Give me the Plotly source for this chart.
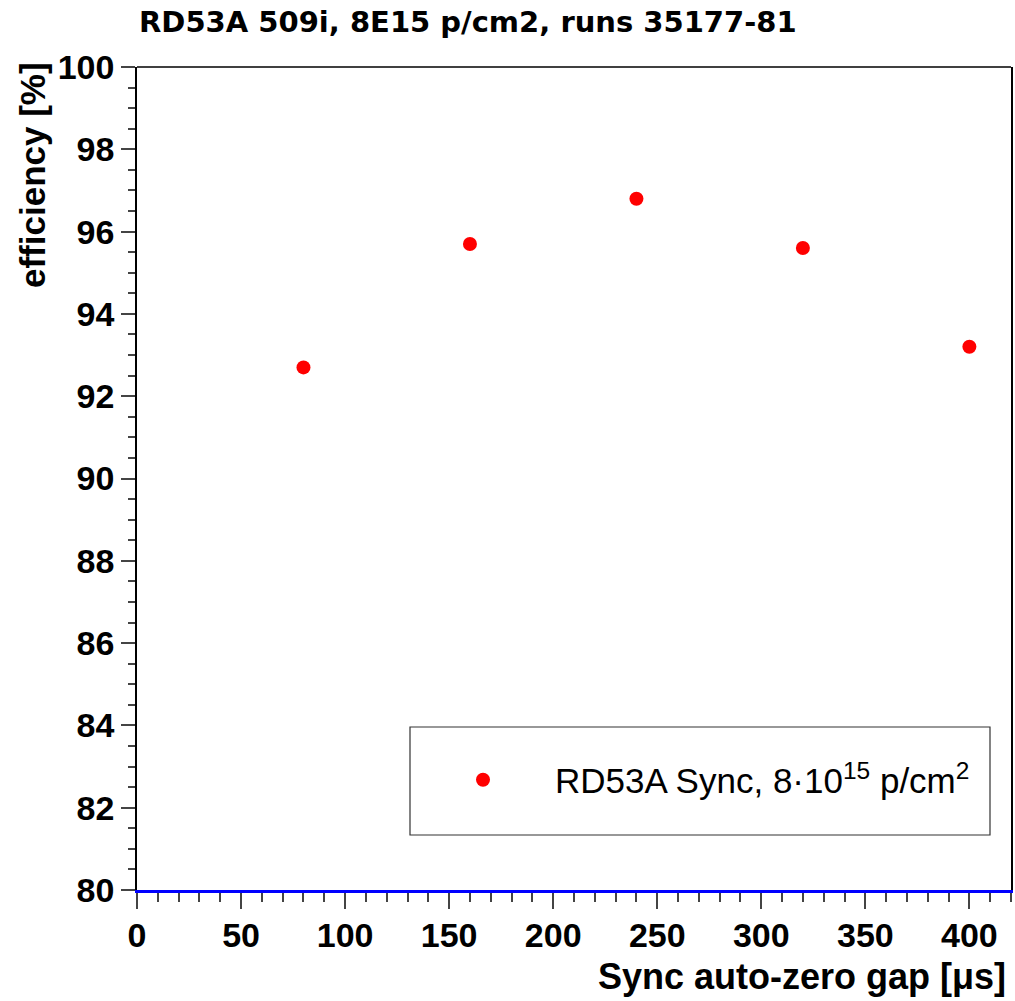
import plotly.graph_objects as go

# Data
gap_us = [80, 160, 240, 320, 400]
efficiency = [92.7, 95.7, 96.8, 95.6, 93.2]
series_name = "RD53A Sync, 8·10<sup>15</sup> p/cm<sup>2</sup>"
title_text = "RD53A 509i, 8E15 p/cm2, runs 35177-81"
x_title = "Sync auto-zero gap [μs]"
y_title = "efficiency [%]"

W, H = 1015, 1001
L, R, T, B = 137, 4, 67, 111
PW, PH = W - L - R, H - T - B


def px(xp):
    return (xp - L) / PW


def py(yp):
    return (H - B - yp) / PH


fig = go.Figure()
fig.add_trace(go.Scatter(
    x=gap_us, y=efficiency, mode="markers", name=series_name,
    marker=dict(color="#ff0000", size=14, symbol="circle"),
    showlegend=True,
))

font_family = "Liberation Sans, Arial, Helvetica, sans-serif"

fig.update_layout(
    width=W, height=H,
    margin=dict(l=L, r=R, t=T, b=B, autoexpand=False),
    paper_bgcolor="white", plot_bgcolor="white",
    font=dict(family=font_family, color="black"),
    showlegend=True,
    legend=dict(
        x=px(411), y=py(780),
        xanchor="left", yanchor="middle",
        bgcolor="rgba(0,0,0,0)", borderwidth=0,
        font=dict(size=35, family=font_family, color="black"),
        itemwidth=134,
    ),
    xaxis=dict(
        range=[0, 420], dtick=50, tick0=0,
        showgrid=False, zeroline=False,
        showline=True, linecolor="#0000ff", linewidth=3, mirror=False,
        ticks="outside", ticklen=16, tickwidth=1.5, tickcolor="#444",
        minor=dict(dtick=10, ticks="outside", ticklen=9, tickwidth=1.5, tickcolor="#444", showgrid=False),
        tickfont=dict(size=34, family=font_family, weight="bold"),
        ticklabelstandoff=-3,
        automargin=False,
    ),
    yaxis=dict(
        range=[80, 100], dtick=2, tick0=80,
        showgrid=False, zeroline=False,
        showline=True, linecolor="black", linewidth=1.5, mirror=True,
        ticks="outside", ticklen=14, tickwidth=1.5, tickcolor="#444",
        minor=dict(dtick=0.5, ticks="outside", ticklen=7, tickwidth=1.5, tickcolor="#444", showgrid=False),
        tickfont=dict(size=34, family=font_family, weight="bold"),
        ticklabelstandoff=0,
        automargin=False,
    ),
    shapes=[
        dict(type="line", xref="paper", yref="paper", x0=0, x1=1, y0=1, y1=1,
             line=dict(color="black", width=1.5), layer="above"),
        dict(type="rect", xref="paper", yref="paper",
             x0=px(410), x1=px(990), y0=py(835), y1=py(727),
             line=dict(color="#333", width=1.2), fillcolor="rgba(0,0,0,0)", layer="above"),
    ],
    annotations=[
        dict(text=title_text, xref="paper", yref="paper",
             x=px(137), y=py(22),
             xanchor="left", yanchor="middle", showarrow=False,
             font=dict(size=29, family="DejaVu Sans, sans-serif", weight="bold")),
        dict(text=x_title, xref="paper", yref="paper",
             x=px(1008), y=py(976),
             xanchor="right", yanchor="middle", showarrow=False,
             font=dict(size=36, family=font_family, weight="bold")),
        dict(text=y_title, xref="paper", yref="paper", textangle=-90,
             x=px(32), y=py(60),
             xanchor="center", yanchor="top", showarrow=False,
             font=dict(size=35, family=font_family, weight="bold")),
    ],
)

fig.write_html("out.html")
